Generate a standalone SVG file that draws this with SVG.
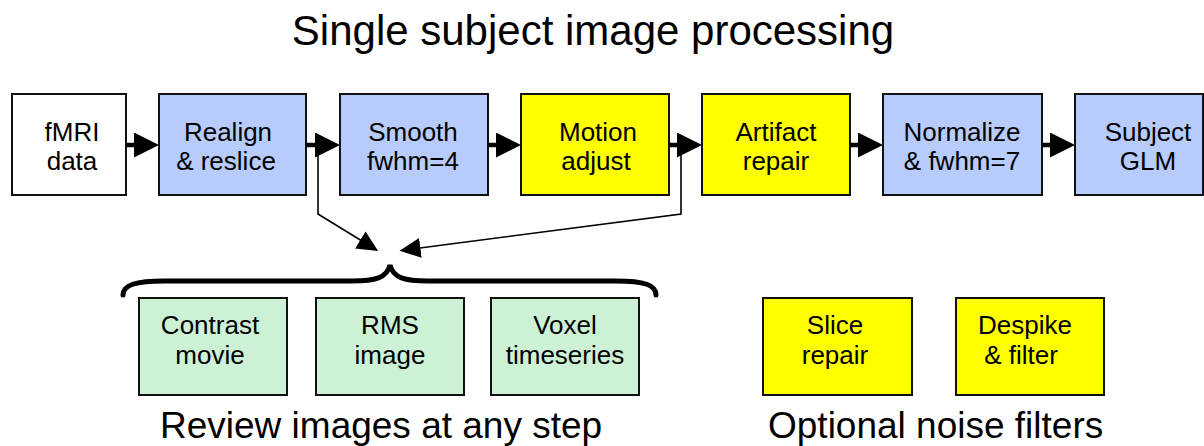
<svg xmlns="http://www.w3.org/2000/svg" width="1204" height="446" viewBox="0 0 1204 446">
<style>
text{font-family:"Liberation Sans",Arial,sans-serif;fill:#000;text-anchor:middle}
.lbl{font-size:26px}
.cap{font-size:37px;text-anchor:start}
.box{stroke:#111;stroke-width:2}
.white{fill:#fff}.blue{fill:#b7cbfd}.yellow{fill:#ffff00}.green{fill:#ccf1d5}
.thick{stroke:#000;stroke-width:4.5;fill:none}
.thin{stroke:#000;stroke-width:1.6;fill:none}
.brace{stroke:#000;stroke-width:5;fill:none;stroke-linecap:round}
</style>
<defs>
<marker id="big" markerUnits="userSpaceOnUse" markerWidth="26" markerHeight="26" refX="13" refY="12.5" orient="auto">
<path d="M0,0 L25,12.5 L0,25 z" fill="#000"/>
</marker>
<marker id="small" markerUnits="userSpaceOnUse" markerWidth="22" markerHeight="22" refX="12" refY="10" orient="auto">
<path d="M0,0 L21,10 L0,20 z" fill="#000"/>
</marker>
</defs>
<text x="593" y="45" style="font-size:42px">Single subject image processing</text>
<g id="n-fmri"><rect class="box white" x="12" y="94" width="114" height="101"/><text class="lbl" x="72" y="141">fMRI</text><text class="lbl" x="72" y="170">data</text></g>
<g id="n-realign"><rect class="box blue" x="159" y="94" width="147" height="101"/><text class="lbl" x="228" y="141">Realign</text><text class="lbl" x="226" y="170">&amp; reslice</text></g>
<g id="n-smooth"><rect class="box blue" x="340" y="94" width="148" height="101"/><text class="lbl" x="413" y="141">Smooth</text><text class="lbl" x="413" y="170">fwhm=4</text></g>
<g id="n-motion"><rect class="box yellow" x="521" y="94" width="148" height="101"/><text class="lbl" x="598" y="141">Motion</text><text class="lbl" x="596" y="170">adjust</text></g>
<g id="n-artifact"><rect class="box yellow" x="702" y="94" width="148" height="101"/><text class="lbl" x="776" y="141">Artifact</text><text class="lbl" x="776" y="170">repair</text></g>
<g id="n-normalize"><rect class="box blue" x="883" y="94" width="159" height="101"/><text class="lbl" x="962" y="141">Normalize</text><text class="lbl" x="962" y="170">&amp; fwhm=7</text></g>
<g id="n-glm"><rect class="box blue" x="1075" y="94" width="128" height="101"/><text class="lbl" x="1148" y="141">Subject</text><text class="lbl" x="1148" y="170">GLM</text></g>
<g id="connectors">
<path class="thick" d="M126,145 H147" marker-end="url(#big)"/>
<path class="thick" d="M306,145 H328" marker-end="url(#big)"/>
<path class="thick" d="M488,145 H509" marker-end="url(#big)"/>
<path class="thick" d="M669,145 H690" marker-end="url(#big)"/>
<path class="thick" d="M850,145 H871" marker-end="url(#big)"/>
<path class="thick" d="M1042,145 H1063" marker-end="url(#big)"/>
<path class="thin" d="M318,145 V214 L370.5,246.2" marker-end="url(#small)"/>
<path class="thin" d="M681,145 V214 L408.5,249.5" marker-end="url(#small)"/>
</g>
<g id="brace"><path class="brace" d="M123,295 C123,285 135,281 165,281 L352,281 C375,281 387,278 390,265 C393,278 405,281 428,281 L615,281 C645,281 656,285 656,295"/></g>
<g id="n-contrast"><rect class="box green" x="139" y="298" width="148" height="97"/><text class="lbl" x="210" y="334">Contrast</text><text class="lbl" x="210" y="364">movie</text></g>
<g id="n-rms"><rect class="box green" x="316" y="298" width="148" height="97"/><text class="lbl" x="390" y="334">RMS</text><text class="lbl" x="390" y="364">image</text></g>
<g id="n-voxel"><rect class="box green" x="491" y="298" width="148" height="97"/><text class="lbl" x="565" y="334">Voxel</text><text class="lbl" x="565" y="364">timeseries</text></g>
<g id="n-slice"><rect class="box yellow" x="763" y="298" width="149" height="97"/><text class="lbl" x="835" y="334">Slice</text><text class="lbl" x="835" y="364">repair</text></g>
<g id="n-despike"><rect class="box yellow" x="956" y="298" width="148" height="97"/><text class="lbl" x="1025" y="334">Despike</text><text class="lbl" x="1021" y="364">&amp; filter</text></g>
<text class="cap" x="160" y="438">Review images at any step</text>
<text class="cap" x="768" y="438">Optional noise filters</text>
</svg>
